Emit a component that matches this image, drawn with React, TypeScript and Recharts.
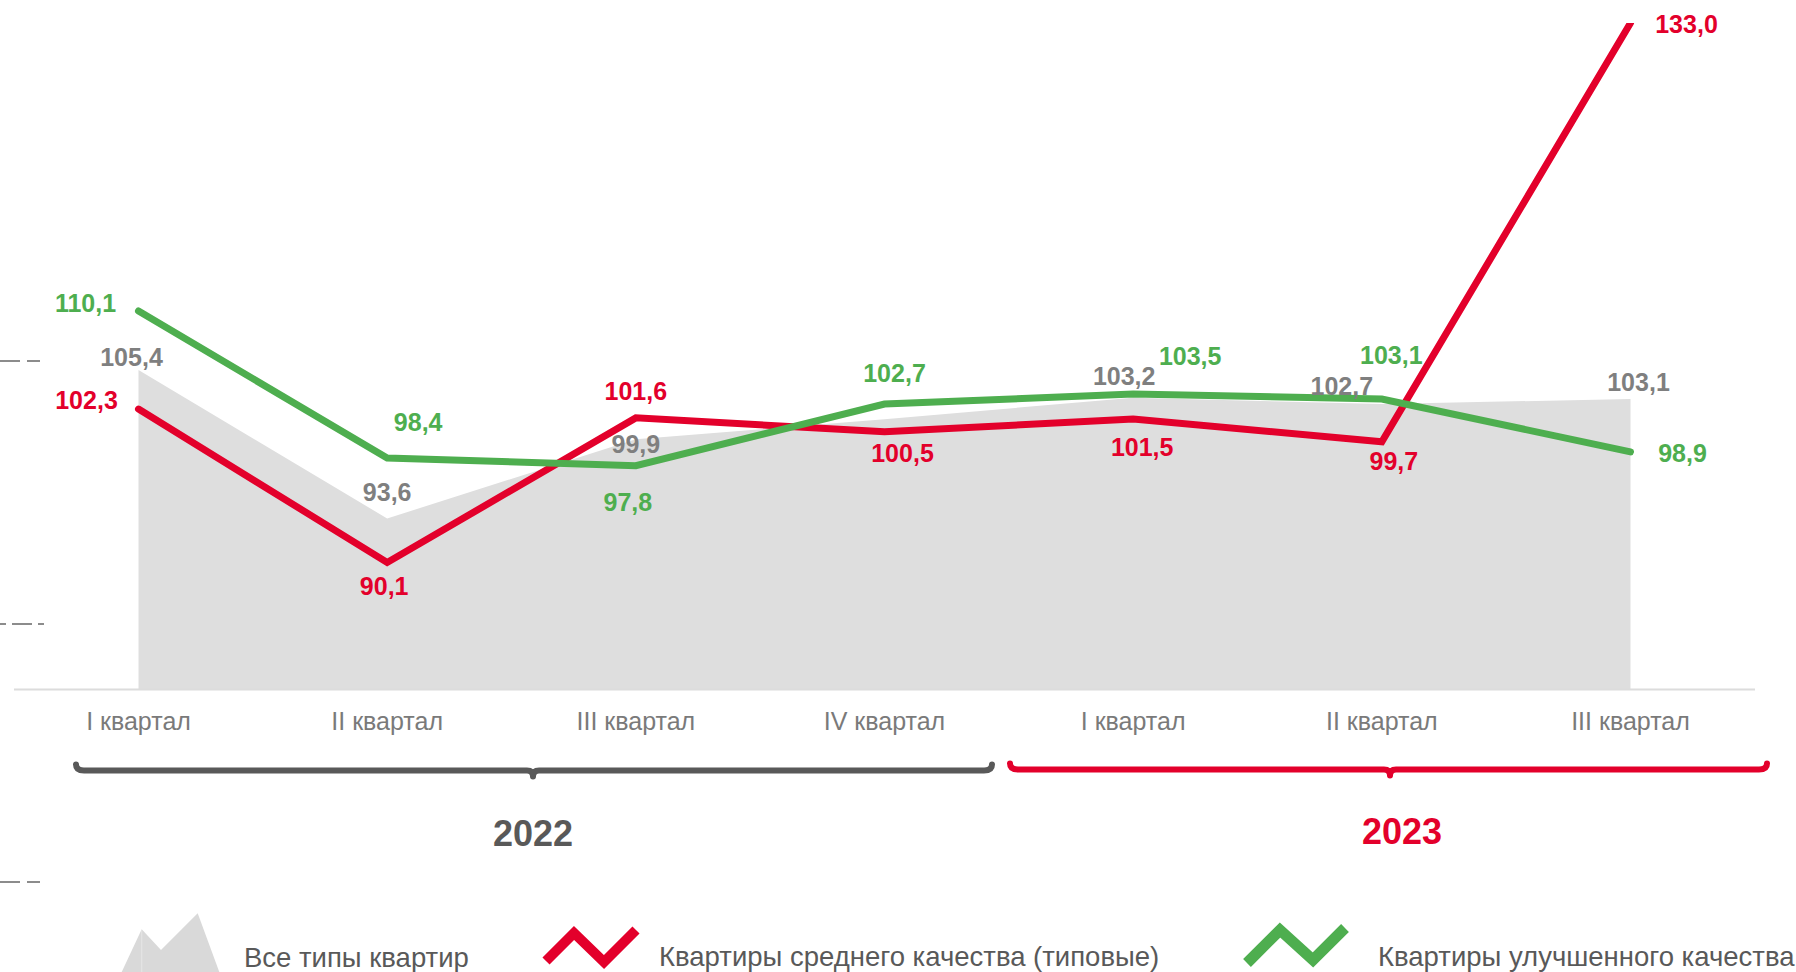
import React from 'react';
import { ComposedChart, Area, Line, XAxis, YAxis } from 'recharts';

// ---- data ----
const quarters = ['I квартал', 'II квартал', 'III квартал', 'IV квартал', 'I квартал', 'II квартал', 'III квартал'];
const allTypes = [105.4, 93.6, 99.9, 101.5, 103.2, 102.7, 103.1];
const typical = [102.3, 90.1, 101.6, 100.5, 101.5, 99.7, 133.0];
const improved = [110.1, 98.4, 97.8, 102.7, 103.5, 103.1, 98.9];
const yearLabels = ['2022', '2023'];
const seriesNames = ['Все типы квартир', 'Квартиры среднего качества (типовые)', 'Квартиры улучшенного качества'];

const data = quarters.map((q, i) => ({ quarter: q, all: allTypes[i], typical: typical[i], improved: improved[i] }));

// ---- styles ----
const FONT = "'Liberation Sans', Arial, Helvetica, sans-serif";
const RED = '#E3002B';
const GREEN = '#4EAE4F';
const GRAY_LABEL = '#7F7F7F';
const AREA = '#DEDEDE';
const DARK = '#595959';
const LABEL_SIZE = 25;

// label centre offsets relative to each point (dx, dy); null = not shown
const grayOffsets: ([number, number] | null)[] = [[-7, -13], [0, -26], [0, 5], null, [-9, -22], [-40, -18], [8, -17]];
const redOffsets: [number, number][] = [[-52, -9], [-3, 23.5], [0, -27], [18, 21], [9, 28], [12, 19], [56, 1]];
const greenOffsets: [number, number][] = [[-53, -8], [31, -36], [-8, 36], [10, -31], [57, -38], [9.5, -44], [52, 1]];

const fmt = (v: number) => v.toFixed(1).replace('.', ',');

const makeLabel = (values: number[], offsets: ([number, number] | null)[], color: string) => (props: any) => {
  const idx = props.index;
  const off = offsets[idx];
  const x = props.x ?? props.viewBox?.x;
  const y = props.y ?? props.viewBox?.y;
  if (!off || x == null || y == null) return <g key={`l-${idx}`} />;
  return (
    <text
      key={`l-${idx}`}
      x={x + off[0]}
      y={y + off[1] + LABEL_SIZE * 0.36}
      textAnchor="middle"
      fill={color}
      fontFamily={FONT}
      fontWeight={700}
      fontSize={LABEL_SIZE}
    >
      {fmt(values[idx])}
    </text>
  );
};

const Tick = (props: any) => {
  const { x, y, payload } = props;
  return (
    <text x={x} y={y + 40.5} textAnchor="middle" fill="#7A7A7A" fontFamily={FONT} fontSize={25}>
      {payload.value}
    </text>
  );
};

const bracket = (x1: number, xm: number, x2: number, y: number) =>
  `M ${x1} ${y - 6} Q ${x1} ${y} ${x1 + 8} ${y} L ${xm - 6} ${y} Q ${xm} ${y} ${xm} ${y + 6} Q ${xm} ${y} ${xm + 6} ${y} L ${x2 - 8} ${y} Q ${x2} ${y} ${x2} ${y - 6}`;

export default function App() {
  return (
    <div style={{ position: 'absolute', left: 0, top: 0, width: 1796, height: 972, background: '#fff', overflow: 'hidden' }}>
      <ComposedChart width={1796} height={972} data={data} margin={{ top: 23, right: 41, left: 14, bottom: 222.5 }}>
        <XAxis
          dataKey="quarter"
          height={60}
          padding={{ left: 124.5, right: 124.5 }}
          axisLine={{ stroke: '#DCDCDC', strokeWidth: 2 }}
          tickLine={false}
          tickSize={0}
          tickMargin={0}
          interval={0}
          tick={<Tick />}
        />
        <YAxis hide domain={[80, 133]} allowDataOverflow />
        <Area
          dataKey="all"
          type="linear"
          stroke="none"
          fill={AREA}
          fillOpacity={1}
          isAnimationActive={false}
          dot={false}
          activeDot={false}
          label={makeLabel(allTypes, grayOffsets, GRAY_LABEL)}
        />
        <Line
          dataKey="typical"
          type="linear"
          stroke={RED}
          strokeWidth={7}
          strokeLinecap="round"
          strokeLinejoin="miter"
          dot={false}
          activeDot={false}
          isAnimationActive={false}
          label={makeLabel(typical, redOffsets, RED)}
        />
        <Line
          dataKey="improved"
          type="linear"
          stroke={GREEN}
          strokeWidth={7}
          strokeLinecap="round"
          strokeLinejoin="miter"
          dot={false}
          activeDot={false}
          isAnimationActive={false}
          label={makeLabel(improved, greenOffsets, GREEN)}
        />
      </ComposedChart>
      <svg width={1796} height={972} style={{ position: 'absolute', left: 0, top: 0, pointerEvents: 'none' }}>
        {/* stray dashes at left */}
        <line x1={0} y1={361} x2={40} y2={361} stroke="#8C8C8C" strokeWidth={2} strokeDasharray="20 7" />
        <line x1={0} y1={624} x2={50} y2={624} stroke="#8C8C8C" strokeWidth={2} strokeDasharray="6 6 20 6" />
        <line x1={0} y1={882} x2={40} y2={882} stroke="#8C8C8C" strokeWidth={2} strokeDasharray="20 7" />
        {/* year brackets */}
        <path d={bracket(76, 533, 992, 770.5)} fill="none" stroke={DARK} strokeWidth={6} strokeLinecap="round" strokeLinejoin="round" />
        <path d={bracket(1010, 1390, 1767, 769.5)} fill="none" stroke={RED} strokeWidth={6} strokeLinecap="round" strokeLinejoin="round" />
        <text x={533} y={845.5} textAnchor="middle" fill={DARK} fontFamily={FONT} fontWeight={700} fontSize={36}>{yearLabels[0]}</text>
        <text x={1402} y={844} textAnchor="middle" fill={RED} fontFamily={FONT} fontWeight={700} fontSize={36}>{yearLabels[1]}</text>
        {/* legend */}
        <polygon points="121.7,972 141.7,929.3 161,950 197.7,913.3 219.3,972" fill="#D9D9D9" />
        <line x1={141.7} y1={930} x2={141.7} y2={972} stroke="#E6E6E6" strokeWidth={1} />
        <text x={244} y={967} fill={DARK} fontFamily={FONT} fontSize={27.5}>{seriesNames[0]}</text>
        <polyline points="546,961 574,933 604,962 636,930" fill="none" stroke={RED} strokeWidth={10} strokeLinejoin="miter" strokeMiterlimit={10} />
        <text x={659} y={966} fill={DARK} fontFamily={FONT} fontSize={27.5}>{seriesNames[1]}</text>
        <polyline points="1247,963 1280,930 1313,960 1345,928" fill="none" stroke={GREEN} strokeWidth={11} strokeLinejoin="miter" strokeMiterlimit={10} />
        <text x={1378} y={966} fill={DARK} fontFamily={FONT} fontSize={27.5}>{seriesNames[2]}</text>
      </svg>
    </div>
  );
}
